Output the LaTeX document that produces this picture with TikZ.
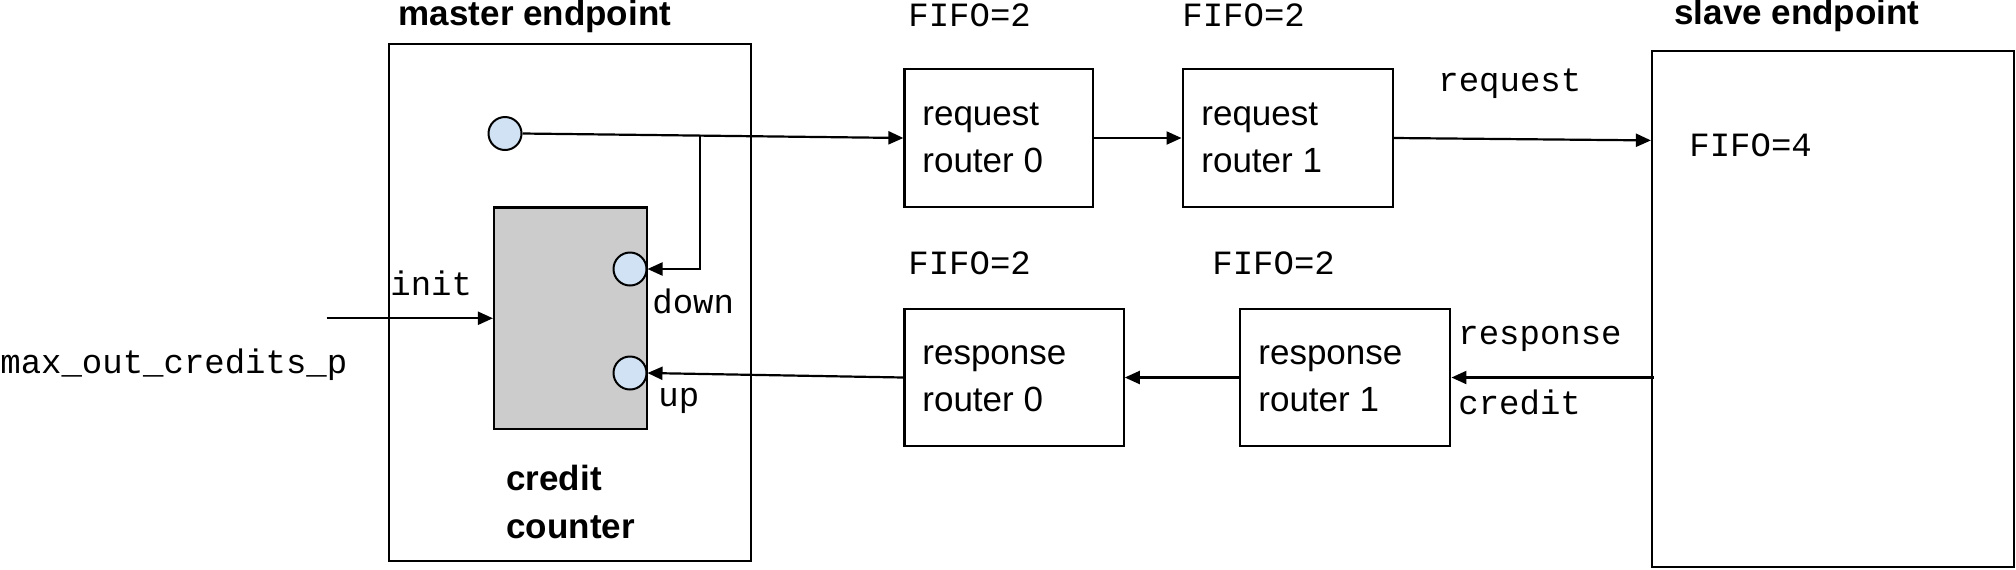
\documentclass[tikz,border=0pt]{standalone}
\usepackage{fontspec}
\setmainfont{Liberation Sans}
\newfontfamily\monof{Liberation Mono}
\usetikzlibrary{arrows.meta}
\definecolor{portblue}{HTML}{D0E2F3}
\definecolor{ccgray}{HTML}{CCCCCC}
\begin{document}
\begin{tikzpicture}[x=0.5pt,y=-0.5pt,
 box/.style={draw, line width=1.1pt, inner sep=0pt},
 port/.style={circle, draw, line width=1pt, fill=portblue, minimum size=16.5pt, inner sep=0pt},
 arr/.style={line width=1.1pt, -{Triangle[length=7.5pt,width=6.5pt]}},
 btxt/.style={font=\fontsize{17.5}{23.5}\selectfont, align=left, inner sep=0pt, anchor=west},
 ttl/.style={font=\fontsize{17.5}{21}\selectfont\bfseries, inner sep=0pt},
 mono/.style={font=\fontsize{17}{20}\selectfont\monof, inner sep=0pt, anchor=west}]
\useasboundingbox (0,0) rectangle (2016,569);

% master endpoint
\node[box, minimum width=181pt, minimum height=258.5pt] (master) at (570,302.5) {};
\node[ttl] (mtitle) at (535,16) {master endpoint};
\node[box, fill=ccgray, minimum width=76.5pt, minimum height=110.75pt] (cc) at (570.5,318.25) {};
\node[btxt, font=\fontsize{17.5}{24}\selectfont\bfseries] (cctxt) at (506,502) {credit\\counter};
\node[port] (src) at (505,133.5) {};
\node[port] (dn) at (630,269) {};
\node[port] (up) at (630,373) {};

% slave endpoint
\node[box, minimum width=181pt, minimum height=258pt] (slave) at (1833,309) {};
\node[ttl] (stitle) at (1797,15) {slave endpoint};
\node[mono] (fifo4) at (1689,145) {FIFO=4};

% request routers
\node[box, minimum width=94.25pt, minimum height=69pt] (rr0) at (998.75,138) {};
\node[btxt] (rr0t) at (922,138) {request\\router 0};
\node[box, minimum width=105.2pt, minimum height=69pt] (rr1) at (1287.8,138) {};
\node[btxt] (rr1t) at (1201,138) {request\\router 1};
\node[mono] (f1) at (908,15) {FIFO=2};
\node[mono] (f2) at (1182,15) {FIFO=2};

% response routers
\node[box, minimum width=109.6pt, minimum height=68.5pt] (rs0) at (1014.1,377.5) {};
\node[btxt] (rs0t) at (922,379) {response\\router 0};
\node[box, minimum width=105.35pt, minimum height=68.5pt] (rs1) at (1345,377.5) {};
\node[btxt] (rs1t) at (1258,379) {response\\router 1};
\node[mono] (f3) at (908,263) {FIFO=2};
\node[mono] (f4) at (1212,263) {FIFO=2};

% labels
\node[mono] (lreq) at (1438,83.5) {request};
\node[mono] (lresp) at (1458,339) {response};
\node[mono] (lcred) at (1458,402) {credit};
\node[mono] (linit) at (390,283) {init};
\node[mono] (lmax) at (0,365) {max\_out\_credits\_p};
\node[mono] (ldown) at (652,301) {down};
\node[mono] (lup) at (658,401) {up};

% connectors
\coordinate (initS) at (326.5,318.25);
\draw[arr] (initS) -- (cc.west);
\draw[arr] (src.east) -- (rr0.west);
\coordinate (j) at (700,134.6);
\draw[arr] (j) |- (dn.east);
\draw[arr] (rr0.east) -- (rr1.west);
\draw[arr] (rr1.east) -- ([yshift=-45.25pt]slave.north west);
\draw[arr] ([xshift=1.5pt]slave.west |- rs1.east) -- (rs1.east);
\draw[arr] (rs1.west) -- (rs0.east);
\draw[arr] (rs0.west) -- (up.east);
\end{tikzpicture}
\end{document}
